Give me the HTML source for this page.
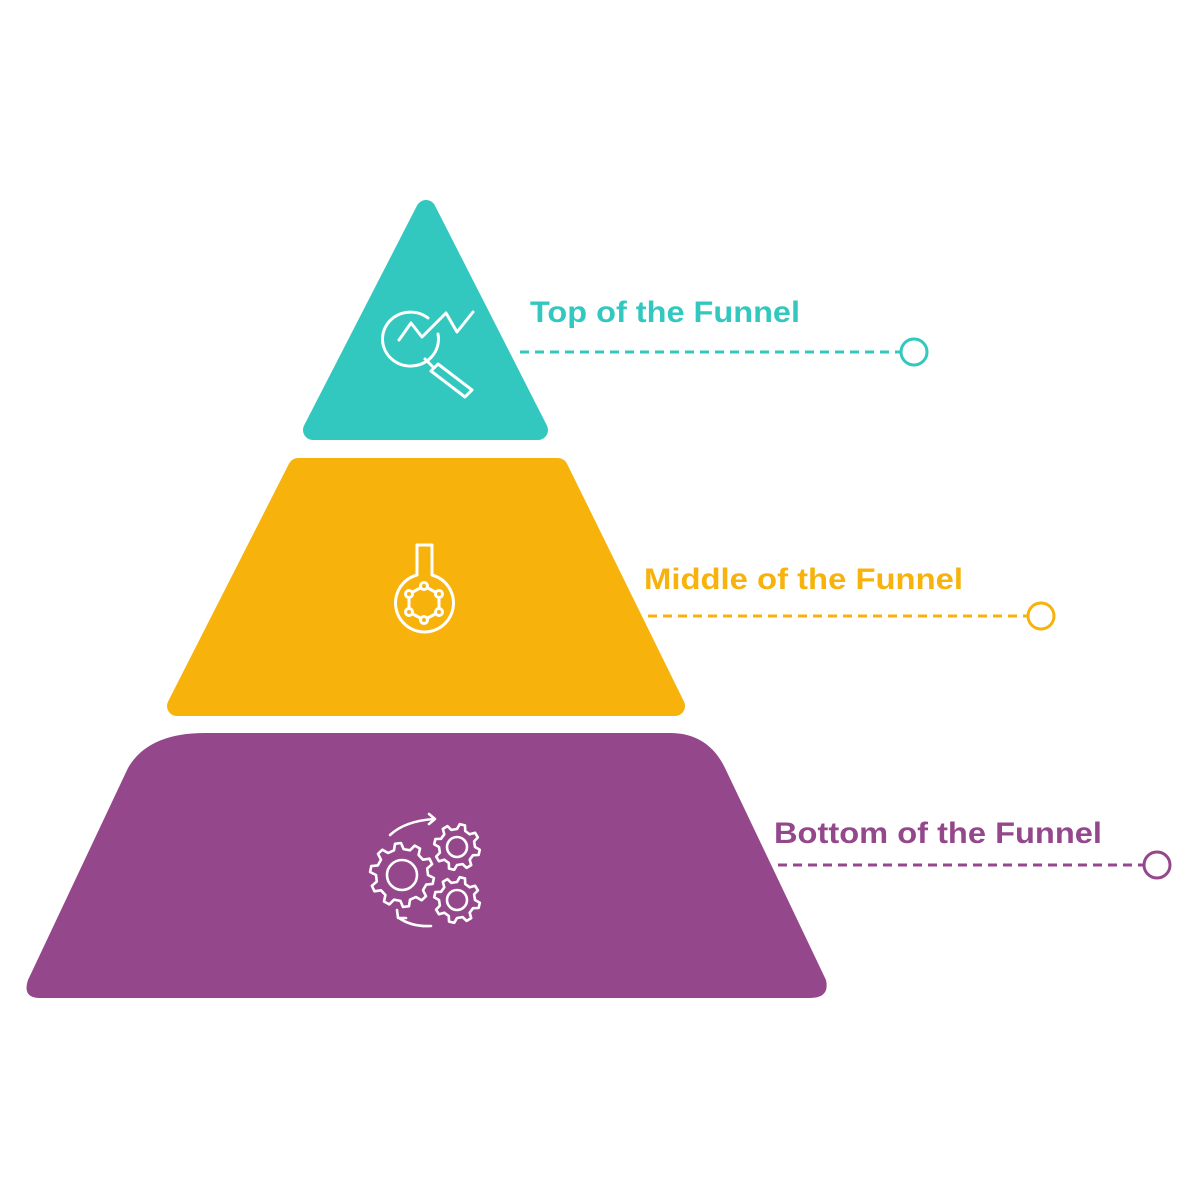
<!DOCTYPE html>
<html><head><meta charset="utf-8"><style>
html,body{margin:0;padding:0;background:#fff;width:1200px;height:1200px;overflow:hidden}
svg{display:block}
text{font-family:"Liberation Sans",sans-serif;font-weight:bold;font-size:30px}
</style></head><body>
<svg width="1200" height="1200" viewBox="0 0 1200 1200" xmlns="http://www.w3.org/2000/svg">
<path d="M426,210 L313,430 L538,430 Z" fill="#33C8BF" stroke="#33C8BF" stroke-width="20" stroke-linejoin="round"/>
<path d="M298,468 L558,468 L675,706 L177,706 Z" fill="#F7B30C" stroke="#F7B30C" stroke-width="20" stroke-linejoin="round"/>
<path d="M205,733 L670,733 Q708,733 725,768 L826,980 Q830,998 810,998 L40,998 Q22,998 28,980 L128,768 Q148,733 205,733 Z" fill="#95478C"/>

<g fill="none" stroke="#fff" stroke-width="3" stroke-linecap="round" stroke-linejoin="round">
<path d="M428,318 A28,27 0 1 0 438,334"/>
<path d="M399,340 L411,323 L422,337 L446,313 L457,332 L473,312"/>
<path d="M425,359 L433,367"/>
<path d="M431,371 L438,364 L472,390 L465,397 Z"/>
</g>
<g fill="none" stroke="#fff" stroke-width="3" stroke-linejoin="round">
<path d="M417,545 L432,545 L432,575 A29,29 0 1 1 417,575 Z"/>
<polygon points="424,586 439,594 439,612 424,620 409,612 409,594"/>
<circle cx="424" cy="586" r="3.5" fill="#F7B30C"/>
<circle cx="439" cy="594" r="3.5" fill="#F7B30C"/>
<circle cx="439" cy="612" r="3.5" fill="#F7B30C"/>
<circle cx="424" cy="620" r="3.5" fill="#F7B30C"/>
<circle cx="409" cy="612" r="3.5" fill="#F7B30C"/>
<circle cx="409" cy="594" r="3.5" fill="#F7B30C"/>
</g>
<g fill="none" stroke="#fff" stroke-width="2.6" stroke-linecap="round" stroke-linejoin="round">
<path id="g1"/><path id="g2"/><path id="g3"/>
<circle cx="402" cy="875" r="15"/>
<circle cx="457" cy="847" r="10"/>
<circle cx="457" cy="900" r="10"/>
<path d="M390,835 Q405,821 434,819"/>
<path d="M429,814 L435,819 L429,824"/>
<path d="M431,926 Q412,927 399,918"/>
<path d="M397,910 L398,918 L406,918"/>
</g>

<text x="530" y="322" fill="#33C8BF" textLength="270" lengthAdjust="spacingAndGlyphs">Top of the Funnel</text>
<line x1="520" y1="352" x2="900" y2="352" stroke="#33C8BF" stroke-width="3" stroke-dasharray="9 6"/>
<circle cx="914" cy="352" r="13" fill="#fff" stroke="#33C8BF" stroke-width="3"/>

<text x="644" y="589" fill="#F7B30C" textLength="319" lengthAdjust="spacingAndGlyphs">Middle of the Funnel</text>
<line x1="648" y1="616" x2="1027" y2="616" stroke="#F7B30C" stroke-width="3" stroke-dasharray="9 6"/>
<circle cx="1041" cy="616" r="13" fill="#fff" stroke="#F7B30C" stroke-width="3"/>

<text x="774" y="843" fill="#95478C" textLength="328" lengthAdjust="spacingAndGlyphs">Bottom of the Funnel</text>
<line x1="778" y1="865" x2="1143" y2="865" stroke="#95478C" stroke-width="3" stroke-dasharray="9 6"/>
<circle cx="1157" cy="865" r="13" fill="#fff" stroke="#95478C" stroke-width="3"/>
</svg>
<script>
function gear(cx,cy,ri,ro,n){var d="",s=Math.PI*2/n;for(var i=0;i<n;i++){var a=i*s;var pts=[[ri,a],[ro,a+s*0.15],[ro,a+s*0.45],[ri,a+s*0.6]];pts.forEach(function(p,j){var x=cx+p[0]*Math.cos(p[1]),y=cy+p[0]*Math.sin(p[1]);d+=(i==0&&j==0?"M":"L")+x.toFixed(1)+","+y.toFixed(1);});}return d+"Z";}
document.getElementById("g1").setAttribute("d",gear(402,875,26,32,10));
document.getElementById("g2").setAttribute("d",gear(457,847,18,23,8));
document.getElementById("g3").setAttribute("d",gear(457,900,18,23,8));
</script>
</body></html>
